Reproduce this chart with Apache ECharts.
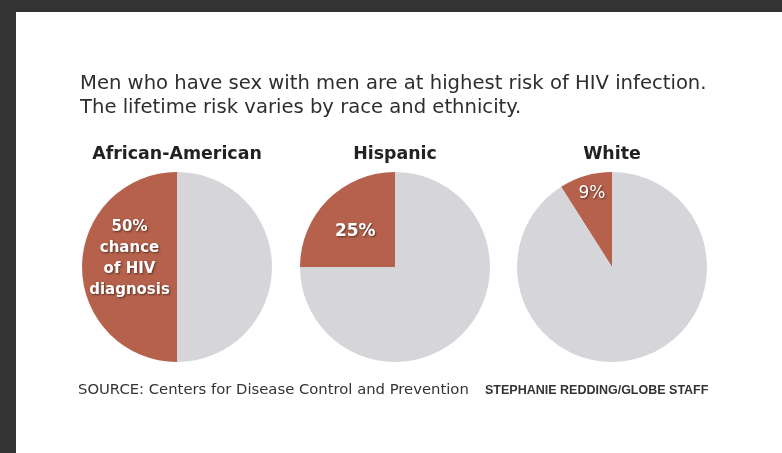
<!DOCTYPE html>
<html>
<head>
<meta charset="utf-8">
<script src="https://cdn.jsdelivr.net/npm/echarts@6/dist/echarts.min.js"></script>
<style>
  html, body { margin: 0; padding: 0; background: #333; }
  #chart { width: 782px; height: 453px; }
</style>
</head>
<body>
<div id="chart"></div>
<script>
  // lifetime risk of HIV diagnosis, by group
  const groups = ['African-American', 'Hispanic', 'White']
  const riskValues = [50, 25, 9]
  const riskLabels = ['50%\nchance\nof HIV\ndiagnosis', '25%', '9%']
  const centersX = [177, 395, 612]

  const red = '#b5614b'
  const grey = '#d6d6da'

  const chart = echarts.init(document.getElementById('chart'))

  // nudges so the labels sit where the original put them
  const labelShift = [{ dx: 3, dy: -8 }, { dx: -4, dy: 0 }, { dx: -6, dy: -25 }]
  const labelFont = [15, 17, 17]
  const labelWeight = ['bold', 'bold', 'normal']

  const series = groups.map((g, i) => ({
    name: g,
    type: 'pie',
    center: [centersX[i], 267],
    radius: 95,
    startAngle: 90,
    clockwise: false,
    silent: true,
    label: { show: false },
    labelLine: { show: false },
    labelLayout: labelShift[i],
    data: [
      {
        name: g + ' risk',
        value: riskValues[i],
        itemStyle: { color: red },
        label: {
          show: true,
          position: 'inside',
          formatter: riskLabels[i],
          color: '#fff',
          fontFamily: 'DejaVu Sans, sans-serif',
          fontWeight: labelWeight[i],
          fontSize: labelFont[i],
          lineHeight: 21,
          textShadowColor: 'rgba(0,0,0,0.5)',
          textShadowBlur: 2,
          textShadowOffsetX: 1,
          textShadowOffsetY: 1
        }
      },
      {
        name: g + ' rest',
        value: 100 - riskValues[i],
        itemStyle: { color: grey }
      }
    ]
  }))

  const titles = [
    {
      text: 'Men who have sex with men are at highest risk of HIV infection.\nThe lifetime risk varies by race and ethnicity.',
      left: 80, top: 72, padding: 0,
      textStyle: { fontFamily: 'DejaVu Sans, sans-serif', fontSize: 19.6, fontWeight: 'normal', color: '#2e2e2e', lineHeight: 24 }
    },
    {
      text: 'SOURCE: Centers for Disease Control and Prevention',
      left: 78, top: 383, padding: 0,
      textStyle: { fontFamily: 'DejaVu Sans, sans-serif', fontSize: 14.8, fontWeight: 'normal', color: '#333' }
    },
    {
      text: 'STEPHANIE REDDING/GLOBE STAFF',
      left: 485, top: 384, padding: 0,
      textStyle: { fontFamily: 'Liberation Sans, Arial, sans-serif', fontSize: 12.5, fontWeight: 'bold', color: '#333' }
    }
  ].concat(groups.map((g, i) => ({
    text: g,
    left: centersX[i],
    top: 146,
    padding: 0,
    textAlign: 'center',
    textStyle: { fontFamily: 'DejaVu Sans, sans-serif', fontSize: 17.4, fontWeight: 'bold', color: '#222' }
  })))

  const option = {
    backgroundColor: '#333',
    animation: false,
    graphic: [{
      type: 'rect',
      z: -10,
      shape: { x: 16, y: 12, width: 766, height: 441 },
      style: { fill: '#fff' }
    }],
    title: titles,
    series: series
  }

  chart.setOption(option)
</script>
</body>
</html>
